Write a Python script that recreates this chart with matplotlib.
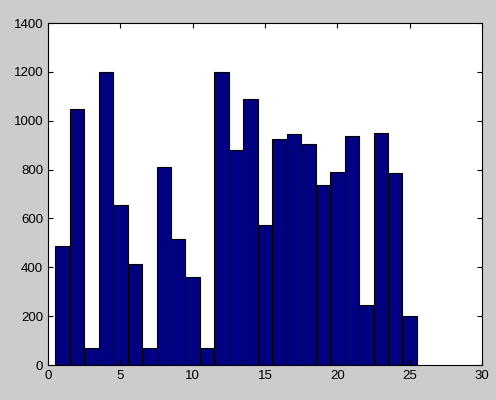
import matplotlib
matplotlib.use("Agg")
import matplotlib.pyplot as plt

plt.rcParams['font.family'] = ['Liberation Sans', 'DejaVu Sans']

positions = list(range(1, 26))
values = [486, 1047, 70, 1200, 655, 414, 70, 810, 516, 360, 70, 1200, 880,
          1088, 574, 925, 945, 905, 737, 790, 937, 246, 950, 786, 200]
xticks = [0, 5, 10, 15, 20, 25, 30]
yticks = [0, 200, 400, 600, 800, 1000, 1200, 1400]

fig = plt.figure(figsize=(4.96, 4.0), dpi=100, facecolor='#cccccc')
ax = fig.add_axes([48/496, 35/400, 434/496, 342/400])
ax.set_facecolor('white')
ax.bar(positions, values, width=1.0, color='#000080', edgecolor='black', linewidth=0.8)
ax.set_xlim(0, 30)
ax.set_ylim(0, 1400)
ax.set_xticks(xticks)
ax.set_yticks(yticks)
ax.tick_params(direction='in', top=True, right=True, length=3.8, labelsize=9.5, width=0.8)
for s in ax.spines.values():
    s.set_linewidth(0.8)
fig.savefig('out.png', dpi=100, facecolor=fig.get_facecolor())
